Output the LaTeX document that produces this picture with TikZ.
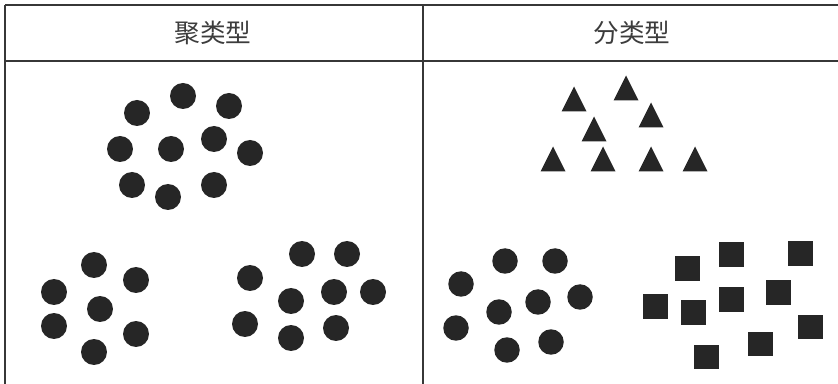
\documentclass[tikz,border=0pt]{standalone}
\usepackage{fontspec}
\usepackage{xcolor}
\usepackage{tikz}
\newfontfamily\cjk{Noto Sans CJK SC}
\definecolor{InkDark}{RGB}{38,38,38}
\definecolor{RuleGray}{RGB}{55,55,55}
\definecolor{TextGray}{RGB}{60,60,60}

\begin{document}
\begin{tikzpicture}[x=0.02cm, y=-0.02cm,
      rule/.style={draw=RuleGray, line width=0.04cm},
      head/.style={font=\cjk\fontsize{14.6}{16}\selectfont, text=TextGray},
      dot/.style={circle, fill=InkDark, inner sep=0pt, minimum size=0.52cm},
      sq/.style={rectangle, fill=InkDark, inner sep=0pt, minimum size=0.5cm}
    ]
    \useasboundingbox (0,0) rectangle (838,384);

    % table rules
    \coordinate (tl) at (5,5);
    \coordinate (tr) at (838,5);
    \coordinate (hl) at (5,61);
    \coordinate (hr) at (838,61);
    \coordinate (bl) at (5,384);
    \coordinate (mt) at (423,5);
    \coordinate (mb) at (423,384);
    \draw[rule] (tl) -- (tr);
    \draw[rule] (hl) -- (hr);
    \draw[rule] (tl) -- (bl);
    \draw[rule] (mt) -- (mb);

    \node[head] (clu) at (213,33) {聚类型};
    \node[head] (cla) at (632,33) {分类型};

    % clustering: three groups of dots
    \foreach \x/\y [count=\i] in {183/96, 137/113, 229/106, 120/149, 171/149,
        214/139, 250/153, 132/185, 214/185, 168/197}{
      \node[dot] (ca\i) at (\x,\y) {};
    }
    \foreach \x/\y [count=\i] in {94/265, 136/280, 54/292, 100/309, 54/326,
        136/334, 94/352}{
      \node[dot] (cb\i) at (\x,\y) {};
    }
    \foreach \x/\y [count=\i] in {302/254, 347/254, 250/278, 291/301, 334/292,
        373/292, 245/324, 291/338, 336/328}{
      \node[dot] (cc\i) at (\x,\y) {};
    }

    % classification: triangles, dots, squares
    \foreach \x/\y in {626/88, 574/99, 651/115, 594/129, 553/159, 603/159,
        651/159, 695/159}{
      \fill[InkDark] (\x-12.5,\y+12.5) -- (\x+12.5,\y+12.5) -- (\x,\y-12.5) -- cycle;
    }
    \foreach \x/\y [count=\i] in {505/261, 555/261, 461/284, 580/297, 538/302,
        499/312, 456/328, 507/350, 551/342}{
      \node[dot, minimum size=0.51cm] (kb\i) at (\x,\y) {};
    }
    \foreach \x/\y [count=\i] in {687/269, 731/255, 800/254, 655/307, 693/313,
        731/300, 778/293, 810/327, 760/344, 706/357}{
      \node[sq] (kc\i) at (\x,\y) {};
    }
  \end{tikzpicture}
\end{document}
